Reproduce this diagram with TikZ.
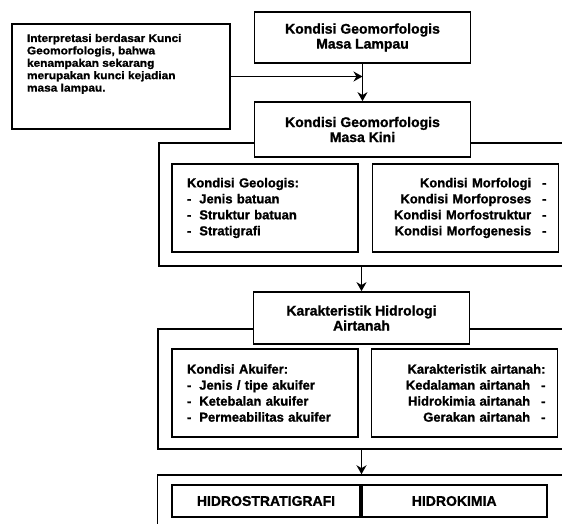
\documentclass[tikz,border=0pt]{standalone}
\usepackage{fontspec}
\setmainfont{Liberation Sans}
\newfontfamily\heavy{Liberation Sans Bold}[FakeBold=1.2]
\newfontfamily\noteheavy{Liberation Sans Bold}[FakeBold=1.2,FakeStretch=1.08]
\usetikzlibrary{arrows.meta}
\begin{document}
\begin{tikzpicture}[x=1pt,y=-1pt,
  base/.style={draw, line width=1.7pt, fill=white, inner sep=0pt},
  hdr/.style={base, align=center, minimum width=216pt, font=\heavy\fontsize{14}{15}\selectfont},
  frame/.style={draw, line width=1.5pt, inner sep=0pt, minimum width=422pt},
  lbox/.style={base, align=left, text width=156pt, inner xsep=15pt, minimum height=88pt, font=\heavy\fontsize{13}{16}\selectfont},
  rbox/.style={base, align=right, text width=162pt, inner xsep=12pt, minimum height=88pt, font=\heavy\fontsize{13}{16}\selectfont},
  cell/.style={base, minimum height=32pt, font=\heavy\fontsize{14}{15}\selectfont},
  arr/.style={line width=1.6pt, -{Stealth[length=9pt,width=10pt]}}
]
\useasboundingbox (0,0) rectangle (562,523);
\clip (0,0) rectangle (562,523);

% frames
\node[frame, minimum height=123pt] (f1) at (370,204.5) {};
\node[frame, minimum height=120pt] (f2) at (369,389) {};
\node[frame, minimum height=70pt] (f3) at (368.5,510) {};

% note
\node[base, minimum width=218pt, minimum height=105pt, line width=1.5pt] (note) at (121,76.5)
  {\parbox[c][85pt][t]{188pt}{\noteheavy\fontsize{11}{12.4}\selectfont
   Interpretasi berdasar Kunci\\
   Geomorfologis, bahwa\\
   kenampakan sekarang\\
   merupakan kunci kejadian\\
   masa lampau.}};

% headers
\node[hdr, minimum height=51pt] (past) at (362.5,37.5) {Kondisi Geomorfologis\\Masa Lampau};
\node[hdr, minimum height=55pt] (kini) at (362.5,129.5) {Kondisi Geomorfologis\\Masa Kini};
\node[hdr, minimum height=52pt] (hid) at (361.5,318) {Karakteristik Hidrologi\\Airtanah};

% inner boxes frame 1
\node[lbox] (geo) at (265,208) {Kondisi Geologis:\\
  -\hspace{8pt}Jenis batuan\\
  -\hspace{8pt}Struktur batuan\\
  -\hspace{8pt}Stratigrafi};
\node[rbox] (morf) at (465.5,208) {Kondisi Morfologi\hspace{11pt}-\\
  Kondisi Morfoproses\hspace{11pt}-\\
  Kondisi Morfostruktur\hspace{11pt}-\\
  Kondisi Morfogenesis\hspace{11pt}-};

% inner boxes frame 2
\node[lbox] (aku) at (265,393) {Kondisi Akuifer:\\
  -\hspace{8pt}Jenis / tipe akuifer\\
  -\hspace{8pt}Ketebalan akuifer\\
  -\hspace{8pt}Permeabilitas akuifer};
\node[rbox] (air) at (464.5,393) {Karakteristik airtanah:\\
  Kedalaman airtanah\hspace{11pt}-\\
  Hidrokimia airtanah\hspace{11pt}-\\
  Gerakan airtanah\hspace{11pt}-};

% table
\node[cell, minimum width=188pt] (hs) at (266,501) {HIDROSTRATIGRAFI};
\node[cell, minimum width=185pt, anchor=west] (hk) at (hs.east) {HIDROKIMIA};

% connectors
\draw[arr] (past.south) -- (kini.north);
\draw[arr] (note.east) -- (note.east -| past.south);
\draw[arr] (f1.south -| hid.north) -- (hid.north);
\draw[arr] (f2.south -| hid.north) -- (f3.north -| hid.north);
\end{tikzpicture}
\end{document}
